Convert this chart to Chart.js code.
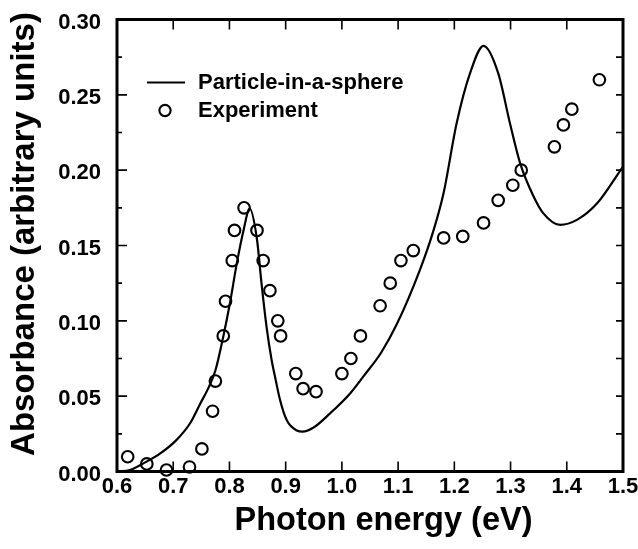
<!DOCTYPE html>
<html>
<head>
<meta charset="utf-8">
<script src="https://cdn.jsdelivr.net/npm/chart.js@4/dist/chart.umd.min.js"></script>
<style>
  html, body { margin: 0; padding: 0; background: #fff; }
  #wrap { width: 638px; height: 549px; }
</style>
</head>
<body>
<div id="wrap"><canvas id="c" width="638" height="549"></canvas></div>
<script>
// Particle-in-a-sphere model absorbance (solid curve)
const theoryE = [0.600, 0.623, 0.647, 0.677, 0.706, 0.730, 0.748, 0.762, 0.775, 0.789,
                 0.801, 0.813, 0.825, 0.836, 0.849, 0.857, 0.866, 0.875, 0.881, 0.890,
                 0.902, 0.920, 0.930, 0.949, 0.979, 1.015, 1.038, 1.070, 1.098, 1.139,
                 1.163, 1.181, 1.204, 1.228, 1.252, 1.278, 1.299, 1.317, 1.341, 1.358,
                 1.388, 1.418, 1.454, 1.500];
const theoryA = [0.000, 0.001, 0.0054, 0.012, 0.021, 0.032, 0.045, 0.055, 0.067, 0.0895,
                 0.112, 0.138, 0.160, 0.1745, 0.154, 0.125, 0.096, 0.074, 0.063, 0.0475,
                 0.034, 0.0272, 0.0265, 0.029, 0.0386, 0.052, 0.063, 0.079, 0.098, 0.134,
                 0.160, 0.185, 0.231, 0.2644, 0.2825, 0.2644, 0.231, 0.2047, 0.1825, 0.1715,
                 0.1637, 0.167, 0.178, 0.2024];

// Measured absorbance (open circles)
const exptE = [0.619, 0.653, 0.688, 0.729, 0.751, 0.770, 0.775, 0.789, 0.793, 0.805,
               0.809, 0.826, 0.849, 0.860, 0.872, 0.886, 0.891, 0.918, 0.931, 0.954,
               1.000, 1.016, 1.033, 1.068, 1.086, 1.105, 1.127, 1.181, 1.215, 1.252,
               1.278, 1.304, 1.319, 1.378, 1.394, 1.409, 1.458];
const exptA = [0.0098, 0.005, 0.001, 0.003, 0.015, 0.040, 0.060, 0.090, 0.113, 0.140,
               0.160, 0.175, 0.160, 0.140, 0.120, 0.100, 0.090, 0.065, 0.055, 0.053,
               0.065, 0.075, 0.090, 0.110, 0.125, 0.140, 0.1466, 0.155, 0.156, 0.165,
               0.180, 0.190, 0.200, 0.2155, 0.230, 0.2405, 0.260];

// Axis tick labels
const xTicks = [0.6, 0.7, 0.8, 0.9, 1.0, 1.1, 1.2, 1.3, 1.4, 1.5];
const yTicks = [0.00, 0.05, 0.10, 0.15, 0.20, 0.25, 0.30];

const seriesNames = ['Particle-in-a-sphere', 'Experiment'];
const axisTitles = { x: 'Photon energy (eV)', y: 'Absorbance (arbitrary units)' };

const FONT = "'Liberation Sans', Arial, Helvetica, sans-serif";

const toXY = (xs, ys) => xs.map((x, i) => ({ x: x, y: ys[i] }));

// Frame, inward tick marks, axis titles and in-plot legend
const framePlugin = {
  id: 'frame',
  afterDatasetsDraw(chart) {
    const { ctx, chartArea: a, scales } = chart;
    const xs = scales.x, ys = scales.y;
    ctx.save();
    ctx.strokeStyle = '#000';
    ctx.lineCap = 'butt';

    // x ticks (bottom and top)
    ctx.lineWidth = 1.6;
    ctx.beginPath();
    xTicks.forEach(v => {
      const px = xs.getPixelForValue(v);
      ctx.moveTo(px, a.bottom); ctx.lineTo(px, a.bottom - 10);
      ctx.moveTo(px, a.top); ctx.lineTo(px, a.top + 10);
    });
    // y ticks: majors + halfway minors on the left, all short on the right
    for (let i = 0; i < yTicks.length; i++) {
      const py = ys.getPixelForValue(yTicks[i]);
      ctx.moveTo(a.left, py); ctx.lineTo(a.left + 10, py);
      ctx.moveTo(a.right, py); ctx.lineTo(a.right - 7, py);
      if (i < yTicks.length - 1) {
        const pm = ys.getPixelForValue((yTicks[i] + yTicks[i + 1]) / 2);
        ctx.moveTo(a.left, pm); ctx.lineTo(a.left + 5, pm);
        ctx.moveTo(a.right, pm); ctx.lineTo(a.right - 7, pm);
      }
    }
    ctx.stroke();

    // plot frame
    ctx.lineWidth = 3;
    ctx.strokeRect(a.left, a.top, a.right - a.left, a.bottom - a.top);

    // axis titles
    ctx.fillStyle = '#000';
    ctx.textBaseline = 'alphabetic';
    ctx.textAlign = 'center';
    ctx.font = 'bold 32.5px ' + FONT;
    ctx.fillText(axisTitles.x, 383.5, 530);
    ctx.save();
    ctx.translate(34, 234);
    ctx.rotate(-Math.PI / 2);
    ctx.font = 'bold 33px ' + FONT;
    ctx.fillText(axisTitles.y, 0, 0);
    ctx.restore();

    // legend
    const lx = a.left + 30, tx = a.left + 81;
    const ly1 = a.top + 63, ly2 = a.top + 91;
    ctx.lineWidth = 2.2;
    ctx.beginPath();
    ctx.moveTo(lx, ly1); ctx.lineTo(lx + 38, ly1);
    ctx.stroke();
    ctx.lineWidth = 2.1;
    ctx.beginPath();
    ctx.arc(lx + 18, ly2, 5.6, 0, Math.PI * 2);
    ctx.stroke();
    ctx.font = 'bold 22px ' + FONT;
    ctx.textAlign = 'left';
    ctx.textBaseline = 'middle';
    ctx.fillText(chart.data.datasets[0].label, tx, ly1);
    ctx.fillText(chart.data.datasets[1].label, tx, ly2);
    ctx.restore();
  }
};

new Chart(document.getElementById('c'), {
  type: 'scatter',
  data: {
    datasets: [
      {
        label: seriesNames[0],
        data: toXY(theoryE, theoryA),
        showLine: true,
        borderColor: '#000',
        borderWidth: 2.2,
        pointRadius: 0,
        cubicInterpolationMode: 'monotone',
        fill: false
      },
      {
        label: seriesNames[1],
        data: toXY(exptE, exptA),
        showLine: false,
        pointStyle: 'circle',
        pointRadius: 5.8,
        pointBorderWidth: 2.1,
        borderColor: '#000',
        backgroundColor: 'rgba(0,0,0,0)',
        clip: false
      }
    ]
  },
  options: {
    responsive: false,
    animation: false,
    devicePixelRatio: 1,
    layout: { padding: { left: 0, right: 15, top: 19.5, bottom: 0 } },
    plugins: {
      legend: { display: false },
      tooltip: { enabled: false }
    },
    scales: {
      x: {
        type: 'linear',
        min: 0.6,
        max: 1.5,
        afterBuildTicks: s => { s.ticks = xTicks.map(v => ({ value: v })); },
        afterFit: s => { s.height = 77.5; s.paddingLeft = 0; s.paddingRight = 0; },
        grid: { display: false, drawTicks: false },
        border: { display: false },
        ticks: {
          color: '#000',
          padding: 2,
          maxRotation: 0,
          autoSkip: false,
          font: { family: FONT, size: 22, weight: 'bold' },
          callback: v => v.toFixed(1)
        },
        title: { display: false }
      },
      y: {
        type: 'linear',
        min: 0,
        max: 0.30,
        afterBuildTicks: s => { s.ticks = yTicks.map(v => ({ value: v })); },
        afterFit: s => { s.width = 117; s.paddingTop = 0; s.paddingBottom = 0; },
        grid: { display: false, drawTicks: false },
        border: { display: false },
        ticks: {
          color: '#000',
          padding: 16,
          labelOffset: 3,
          autoSkip: false,
          font: { family: FONT, size: 22, weight: 'bold' },
          callback: v => v.toFixed(2)
        },
        title: { display: false }
      }
    }
  },
  plugins: [framePlugin]
});
</script>
</body>
</html>
